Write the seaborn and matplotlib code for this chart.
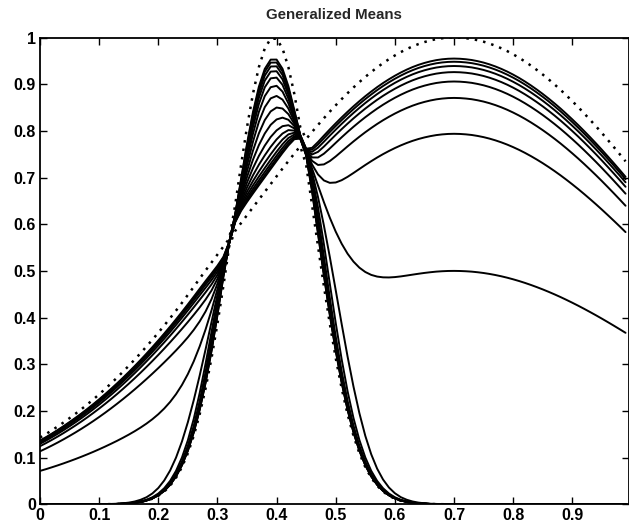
import numpy as np
import pandas as pd
import matplotlib
matplotlib.use("Agg")
import matplotlib.pyplot as plt
import seaborn as sns

# sample positions (x = 0 .. 0.99, step 0.01)
x_vals = np.round(np.arange(100) * 0.01, 2)

# narrow bump peaking near x = 0.395
f_vals = [0, 0, 0, 0, 0, 0, 0, 0, 0, 0,
          0.0001, 0.0002, 0.0004, 0.0006, 0.0011, 0.0018, 0.0030, 0.0049, 0.0077, 0.0120,
          0.0183, 0.0273, 0.0398, 0.0569, 0.0797, 0.1094, 0.1469, 0.1931, 0.2486, 0.3133,
          0.3867, 0.4674, 0.5532, 0.6410, 0.7273, 0.8080, 0.8790, 0.9363, 0.9766, 0.9974,
          0.9974, 0.9766, 0.9363, 0.8790, 0.8080, 0.7273, 0.6410, 0.5532, 0.4674, 0.3867,
          0.3133, 0.2486, 0.1931, 0.1469, 0.1094, 0.0797, 0.0569, 0.0398, 0.0273, 0.0183,
          0.0120, 0.0077, 0.0049, 0.0030, 0.0018, 0.0011, 0.0006, 0.0004, 0.0002, 0.0001,
          0, 0, 0, 0, 0, 0, 0, 0, 0, 0,
          0, 0, 0, 0, 0, 0, 0, 0, 0, 0,
          0, 0, 0, 0, 0, 0, 0, 0, 0, 0]

# broad bump peaking at x = 0.7
g_vals = [0.1430, 0.1505, 0.1585, 0.1668, 0.1755, 0.1846, 0.1940, 0.2038, 0.2140, 0.2246,
          0.2356, 0.2470, 0.2588, 0.2710, 0.2836, 0.2966, 0.3100, 0.3238, 0.3380, 0.3526,
          0.3676, 0.3830, 0.3988, 0.4150, 0.4316, 0.4486, 0.4660, 0.4836, 0.5010, 0.5180,
          0.5350, 0.5520, 0.5690, 0.5858, 0.6026, 0.6193, 0.6360, 0.6527, 0.6693, 0.6860,
          0.7026, 0.7191, 0.7353, 0.7513, 0.7672, 0.7826, 0.7978, 0.8126, 0.8271, 0.8412,
          0.8548, 0.8680, 0.8807, 0.8929, 0.9045, 0.9156, 0.9260, 0.9359, 0.9451, 0.9536,
          0.9615, 0.9687, 0.9752, 0.9810, 0.9860, 0.9902, 0.9937, 0.9965, 0.9984, 0.9996,
          1.0000, 0.9996, 0.9985, 0.9968, 0.9942, 0.9910, 0.9870, 0.9823, 0.9769, 0.9708,
          0.9640, 0.9566, 0.9485, 0.9398, 0.9305, 0.9207, 0.9103, 0.8994, 0.8880, 0.8760,
          0.8636, 0.8508, 0.8375, 0.8238, 0.8098, 0.7954, 0.7806, 0.7656, 0.7503, 0.7347]

# exponents of the generalized means
p_values = [-15, -13, -11, -9, -7, -5, -3, -1, 1, 3, 5, 7, 9, 11, 13, 15]

x_ticks = [0, 0.1, 0.2, 0.3, 0.4, 0.5, 0.6, 0.7, 0.8, 0.9]
x_tick_labels = ["0", "0.1", "0.2", "0.3", "0.4", "0.5", "0.6", "0.7", "0.8", "0.9"]
y_ticks = [0, 0.1, 0.2, 0.3, 0.4, 0.5, 0.6, 0.7, 0.8, 0.9, 1.0]
y_tick_labels = ["0", "0.1", "0.2", "0.3", "0.4", "0.5", "0.6", "0.7", "0.8", "0.9", "1"]


def gen_mean(a, b, p):
    # ((a^p + b^p) / 2)^(1/p), zero where either input is zero for p < 0
    with np.errstate(divide="ignore", over="ignore"):
        m = ((a ** p + b ** p) / 2.0) ** (1.0 / p)
    return np.nan_to_num(m)


f = np.array(f_vals, dtype=float)
g = np.array(g_vals, dtype=float)

rows = []
for p in p_values:
    m = gen_mean(f, g, p)
    rows.append(pd.DataFrame({"x": x_vals, "value": m, "p": p}))
df = pd.concat(rows, ignore_index=True)

sns.set_style("ticks")
plt.rcParams["font.family"] = ["Liberation Sans", "DejaVu Sans"]

fig = plt.figure(figsize=(6.29, 5.25), dpi=100)
ax = fig.add_axes([40 / 629, 20.7 / 525, 588.5 / 629, 466.8 / 525])

sns.lineplot(data=df, x="x", y="value", hue="p", units="p", estimator=None,
             palette=["black"] * len(p_values), legend=False, linewidth=1.4, ax=ax)

# max / min envelopes drawn dotted
sns.lineplot(x=x_vals, y=np.maximum(f, g), color="black", linewidth=1.8,
             linestyle=(0, (1, 2.4)), ax=ax)
sns.lineplot(x=x_vals, y=np.minimum(f, g), color="black", linewidth=1.8,
             linestyle=(0, (1, 2.4)), ax=ax)

ax.set_xlim(0, 0.995)
ax.set_ylim(0, 1)
ax.set_xticks(x_ticks)
ax.set_xticklabels(x_tick_labels)
ax.set_yticks(y_ticks)
ax.set_yticklabels(y_tick_labels)
ax.tick_params(direction="in", top=True, right=True, length=5, width=1,
               labelsize=11.5, pad=3, colors="black")
for lab in ax.get_xticklabels() + ax.get_yticklabels():
    lab.set_fontweight("bold")
for sp in ax.spines.values():
    sp.set_visible(True)
    sp.set_linewidth(1.3)
    sp.set_color("black")
ax.set_xlabel("")
ax.set_ylabel("")
ax.set_title("Generalized Means", fontsize=10.8, fontweight="bold", pad=13)

fig.savefig("out.png", dpi=100)
